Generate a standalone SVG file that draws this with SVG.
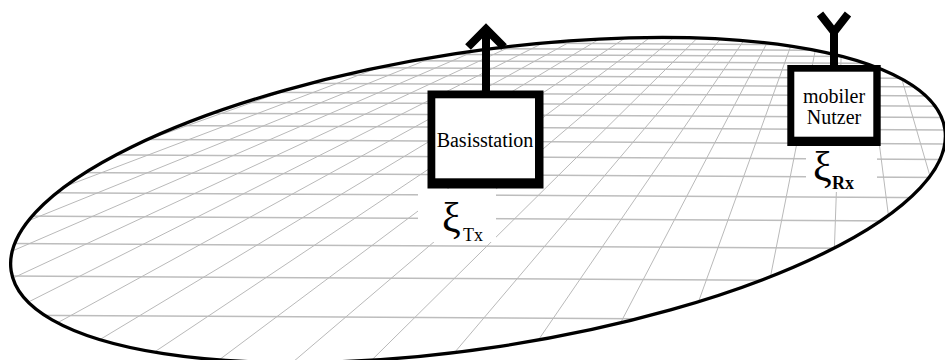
<svg xmlns="http://www.w3.org/2000/svg" width="945" height="360" viewBox="0 0 945 360">
<style>
.h{stroke:#bdbdbd;stroke-width:1.5;fill:none}
.d{stroke:#b9b9b9;stroke-width:1;fill:none}
.rim{fill:none;stroke:#000;stroke-width:3.3}
.ant{fill:none;stroke:#000;stroke-width:8;stroke-linejoin:miter;stroke-linecap:butt}
.lbl{font-family:"Liberation Serif","Times New Roman",serif;font-size:20px;fill:#000}
.xi{font-family:"Liberation Serif","Times New Roman",serif;font-size:42px;fill:#000}
.sub{font-family:"Liberation Serif","Times New Roman",serif;font-size:18px;fill:#000}
</style>
<defs>
<clipPath id="cl"><ellipse cx="478" cy="200" rx="472.2" ry="148" transform="rotate(-8.64 478 200)"/></clipPath>
</defs>
<rect width="945" height="360" fill="#fff"/>
<g id="ground">
<g clip-path="url(#cl)">
<g class="h">
<line x1="0" y1="35.0" x2="945" y2="40.2"/>
<line x1="0" y1="40.3" x2="945" y2="45.5"/>
<line x1="0" y1="45.9" x2="945" y2="51.1"/>
<line x1="0" y1="51.9" x2="945" y2="57.1"/>
<line x1="0" y1="58.5" x2="945" y2="63.7"/>
<line x1="0" y1="65.6" x2="945" y2="70.8"/>
<line x1="0" y1="73.3" x2="945" y2="78.5"/>
<line x1="0" y1="81.7" x2="945" y2="86.9"/>
<line x1="0" y1="90.9" x2="945" y2="96.1"/>
<line x1="0" y1="101.0" x2="945" y2="106.2"/>
<line x1="0" y1="112.2" x2="945" y2="117.4"/>
<line x1="0" y1="124.7" x2="945" y2="129.9"/>
<line x1="0" y1="138.7" x2="945" y2="143.9"/>
<line x1="0" y1="154.3" x2="945" y2="159.5"/>
<line x1="0" y1="172.2" x2="945" y2="177.4"/>
<line x1="0" y1="192.5" x2="945" y2="197.7"/>
<line x1="0" y1="216.0" x2="945" y2="221.2"/>
<line x1="0" y1="243.5" x2="945" y2="248.7"/>
<line x1="0" y1="276.0" x2="945" y2="281.2"/>
<line x1="0" y1="315.2" x2="945" y2="320.4"/>
</g>
<g class="d">
<line x1="847" y1="-110" x2="-575.0" y2="370"/>
<line x1="847" y1="-110" x2="-497.0" y2="370"/>
<line x1="847" y1="-110" x2="-418.9" y2="370"/>
<line x1="847" y1="-110" x2="-340.9" y2="370"/>
<line x1="847" y1="-110" x2="-262.8" y2="370"/>
<line x1="847" y1="-110" x2="-184.7" y2="370"/>
<line x1="847" y1="-110" x2="-106.7" y2="370"/>
<line x1="847" y1="-110" x2="-28.6" y2="370"/>
<line x1="847" y1="-110" x2="49.4" y2="370"/>
<line x1="847" y1="-110" x2="127.5" y2="370"/>
<line x1="847" y1="-110" x2="205.6" y2="370"/>
<line x1="847" y1="-110" x2="283.6" y2="370"/>
<line x1="847" y1="-110" x2="361.7" y2="370"/>
<line x1="847" y1="-110" x2="439.7" y2="370"/>
<line x1="847" y1="-110" x2="517.8" y2="370"/>
<line x1="847" y1="-110" x2="595.9" y2="370"/>
<line x1="847" y1="-110" x2="673.9" y2="370"/>
<line x1="847" y1="-110" x2="752.0" y2="370"/>
<line x1="847" y1="-110" x2="830.1" y2="370"/>
<line x1="847" y1="-110" x2="908.1" y2="370"/>
<line x1="847" y1="-110" x2="986.2" y2="370"/>
<line x1="847" y1="-110" x2="1064.2" y2="370"/>
</g>
</g>
<ellipse class="rim" cx="478" cy="200" rx="472.2" ry="148" transform="rotate(-8.64 478 200)"/>
</g>
<g id="basisstation">
<polyline class="ant" points="486,91 486,29"/>
<polyline class="ant" points="468,47 486,29 504,47"/>
<rect x="427.5" y="90.5" width="116" height="98" fill="#000"/>
<rect x="435.3" y="98.3" width="99.7" height="80" fill="#fff"/>
<text class="lbl" x="485" y="146.7" text-anchor="middle">Basisstation</text>
</g>
<g id="label-tx">
<rect x="418" y="189" width="78" height="53" fill="#fff"/>
<text x="442" y="232"><tspan class="xi">ξ</tspan><tspan class="sub" x="463" y="240.7">Tx</tspan></text>
</g>
<g id="mobiler-nutzer">
<polyline class="ant" points="834,65 834,32"/>
<polyline class="ant" points="820,14 834,32 848,14"/>
<rect x="787.3" y="65" width="93.4" height="81" fill="#000"/>
<rect x="794.3" y="71.7" width="79" height="65" fill="#fff"/>
<text class="lbl" x="834" y="103.3" text-anchor="middle">mobiler</text>
<text class="lbl" x="834" y="124" text-anchor="middle">Nutzer</text>
</g>
<g id="label-rx">
<rect x="806" y="146" width="71" height="46" fill="#fff"/>
<text x="813" y="181"><tspan class="xi">ξ</tspan><tspan class="sub" x="832" y="189" font-weight="bold">Rx</tspan></text>
</g>
</svg>
